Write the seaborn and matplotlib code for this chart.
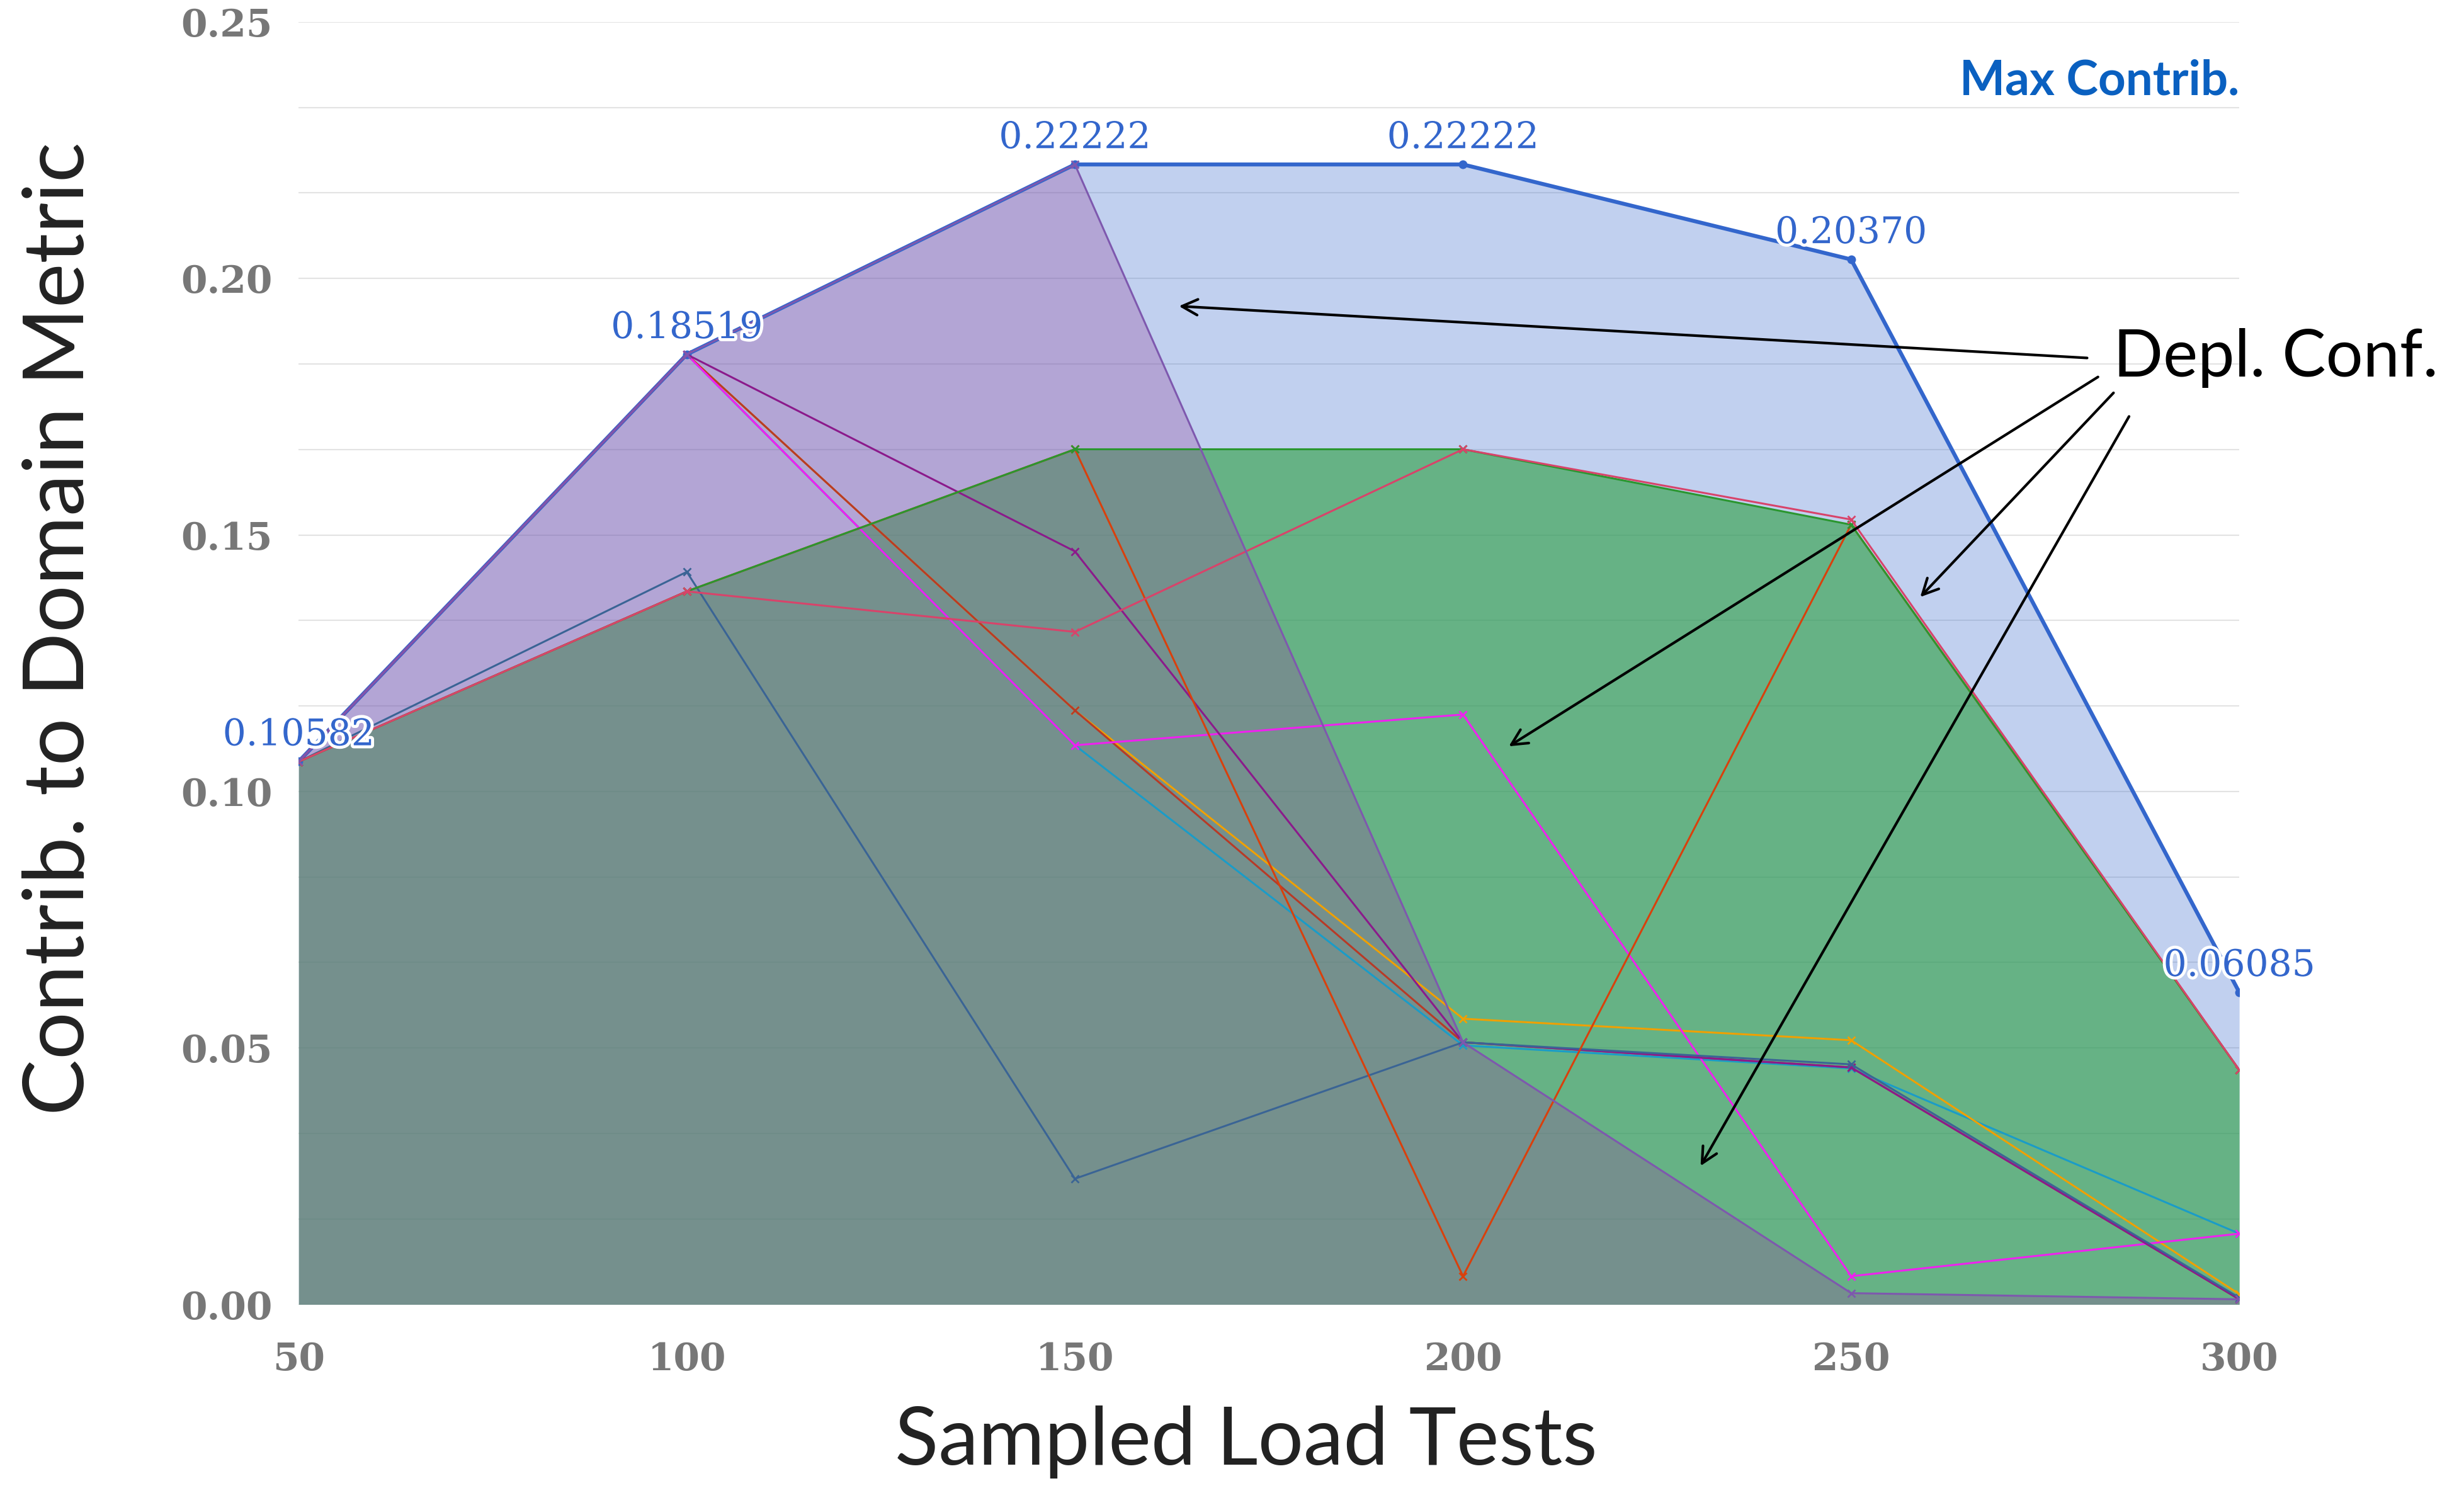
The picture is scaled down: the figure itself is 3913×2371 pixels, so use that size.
import numpy as np
import pandas as pd
import matplotlib
matplotlib.use("Agg")
import matplotlib.pyplot as plt
import matplotlib.patheffects as pe
import seaborn as sns

# --- data ---
sample_sizes = [50, 100, 150, 200, 250, 300]

max_contrib = [0.10582, 0.18519, 0.22222, 0.22222, 0.20370, 0.06085]
purple_area = [0.10582, 0.18519, 0.22222, 0.0511, 0.0022, 0.0010]
green_area = [0.1058, 0.1390, 0.1667, 0.1667, 0.1520, 0.0457]

steel_conf = [0.1058, 0.1428, 0.0245, 0.0511, 0.0468, 0.0013]
crimson_conf = [0.1058, 0.1390, 0.1311, 0.1667, 0.1530, 0.0457]
orange_red_conf = [0.1058, 0.1390, 0.1667, 0.0055, 0.1520, 0.0457]
dark_purple_conf = [0.1058, 0.18519, 0.1468, 0.0511, 0.0462, 0.0010]
magenta_conf = [0.1058, 0.18519, 0.1090, 0.1150, 0.0055, 0.0138]
brown_conf = [0.1058, 0.18519, 0.1158, 0.0511, 0.0462, 0.0010]
cyan_conf = [0.1058, 0.18519, 0.1090, 0.0505, 0.0460, 0.0138]
orange_conf = [0.1058, 0.18519, 0.1158, 0.0557, 0.0515, 0.0020]

# drawing order: last one ends up on top
series = {
    "cyan": cyan_conf,
    "orange": orange_conf,
    "brown": brown_conf,
    "magenta": magenta_conf,
    "dark_purple": dark_purple_conf,
    "steel": steel_conf,
    "orange_red": orange_red_conf,
    "green_area": green_area,
    "crimson": crimson_conf,
    "purple_area": purple_area,
}
palette = {
    "purple_area": "#7E58AE",
    "green_area": "#2A962F",
    "steel": "#3A6495",
    "crimson": "#D8436A",
    "orange_red": "#D9400C",
    "dark_purple": "#8B1A8B",
    "brown": "#B83A26",
    "orange": "#F0A000",
    "cyan": "#1A9CC8",
    "magenta": "#F020F0",
}

rows = []
for name, vals in series.items():
    for x, y in zip(sample_sizes, vals):
        rows.append({"tests": x, "contrib": y, "series": name})
df = pd.DataFrame(rows)

sns.set_theme(style="white")
plt.rcParams["font.family"] = ["DejaVu Serif"]

fig = plt.figure(figsize=(39.13, 23.71), dpi=100)
ax = fig.add_axes([0.1212, 0.1263, 0.7876, 0.859])

# filled areas
ax.fill_between(sample_sizes, max_contrib, 0, color="#3366CC", alpha=0.30, lw=0, zorder=1)
ax.fill_between(sample_sizes, green_area, 0, color="#2A9F3F", alpha=0.60, lw=0, zorder=2)
ax.fill_between(sample_sizes, purple_area, 0, color="#964BA0", alpha=0.32, lw=0, zorder=3)

# max contribution (sits under the configuration lines)
sns.lineplot(x=sample_sizes, y=max_contrib, color="#3366CC", linewidth=4.5,
             marker="o", markersize=10, markeredgewidth=0, ax=ax, zorder=4)
n_before = len(ax.lines)

# configuration lines
sns.lineplot(data=df, x="tests", y="contrib", hue="series", palette=palette,
             hue_order=list(series), estimator=None, sort=False, linewidth=2.2,
             marker="x", markersize=8, markeredgewidth=2, legend=False, ax=ax,
             zorder=5)
for line in ax.lines[n_before:]:
    line.set_markeredgecolor(line.get_color())

for x, y in zip(sample_sizes, max_contrib):
    ax.annotate(f"{y:.5f}", (x, y), xytext=(0, 10), textcoords="offset points",
                ha="center", va="bottom", fontsize=42, color="#3366CC",
                family="DejaVu Serif", zorder=6, annotation_clip=False,
                path_effects=[pe.withStroke(linewidth=7, foreground="white")])

ax.set_xlim(50, 300)
ax.set_ylim(0, 0.25)
ax.set_xticks(sample_sizes)
ax.set_yticks(np.arange(0, 0.2501, 0.05))
ax.set_yticks(np.arange(0, 0.2501, 0.05 / 3), minor=True)
ax.set_yticklabels([f"{v:.2f}" for v in np.arange(0, 0.2501, 0.05)])
ax.grid(axis="y", which="both", color="#E3E3E3", linewidth=1.5)
ax.set_axisbelow(True)
ax.tick_params(axis="both", which="both", length=0, labelsize=43,
               labelcolor="#777777")
ax.tick_params(axis="y", pad=30)
ax.tick_params(axis="x", pad=42)
for lab in ax.get_xticklabels() + ax.get_yticklabels():
    lab.set_fontweight("bold")
for s in ax.spines.values():
    s.set_visible(False)
ax.set_xlabel("")
ax.set_ylabel("")

fig.text(0.0243, 0.579, "Contrib. to Domain Metric", rotation=90, ha="center",
         va="center", fontsize=96, family="Lato", color="#222222")
fig.text(0.5058, 0.034, "Sampled Load Tests", ha="center", va="center",
         fontsize=92, family="Lato", color="#222222")

ax.text(300, 0.2385, "Max Contrib.", ha="right", va="center", fontsize=55,
        fontweight="bold", family="Lato", color="#0A60C0")

# "Depl. Conf." annotation with arrows
ax.text(283.8, 0.1845, "Depl. Conf.", ha="left", va="center", fontsize=75,
        family="Lato", color="black", clip_on=False)
arrow_tails = [(280.4, 0.1845), (281.8, 0.1808), (283.8, 0.1777), (285.8, 0.1731)]
arrow_heads = [(163.4, 0.1946), (205.9, 0.1088), (258.9, 0.1379), (230.6, 0.0270)]
for tail, head in zip(arrow_tails, arrow_heads):
    ax.annotate("", xy=head, xytext=tail, annotation_clip=False, zorder=7,
                arrowprops=dict(arrowstyle="->", color="black", lw=3,
                                mutation_scale=45, shrinkA=0, shrinkB=0))

fig.savefig("out.png", dpi=100)
